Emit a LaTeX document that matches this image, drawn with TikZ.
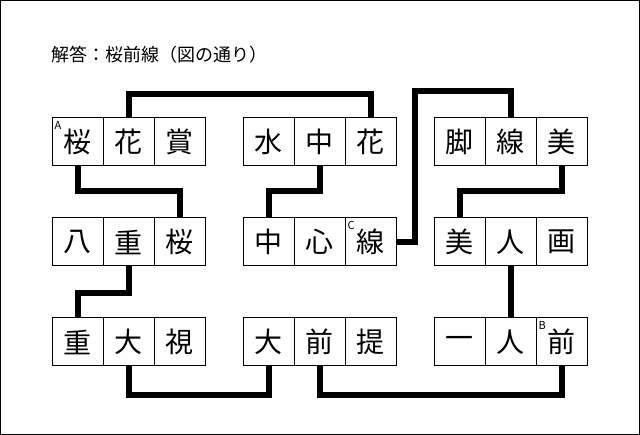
\documentclass[tikz,border=0pt]{standalone}
\usepackage{fontspec}
\setmainfont{Noto Sans CJK JP}
\begin{document}
\begin{tikzpicture}[x=1pt,y=-1pt,
 cell/.style={draw,line width=1pt,minimum width=51pt,minimum height=48pt,inner sep=0pt,font=\fontsize{28}{28}\selectfont},
 tag/.style={font=\fontsize{11}{11}\selectfont,inner sep=0pt},
 conn/.style={line width=6pt,line join=miter}]
\draw[line width=1pt,fill=white] (0.5,0.5) rectangle (639.5,434.5);
\useasboundingbox (0,0) rectangle (640,435);
\node[anchor=west,font=\fontsize{18}{18}\selectfont] (title) at (48,55) {解答：桜前線（図の通り）};
\foreach \g/\gx in {1/52,2/243,3/434}{
 \foreach \r/\ry in {1/142,2/242,3/342}{
  \foreach \c in {1,2,3}{
   \coordinate (p\g\r\c) at ({\gx+25.5+51*(\c-1)},\ry);
  }}}
\def\row#1#2#3#4#5{\node[cell] (c#1#21) at (p#1#21) {#3};\node[cell] (c#1#22) at (p#1#22) {#4};\node[cell] (c#1#23) at (p#1#23) {#5};}
\row11{桜}{花}{賞}
\row12{八}{重}{桜}
\row13{重}{大}{視}
\row21{水}{中}{花}
\row22{中}{心}{線}
\row23{大}{前}{提}
\row31{脚}{線}{美}
\row32{美}{人}{画}
\row33{一}{人}{前}
\node[tag,anchor=north west] (ta) at ([xshift=3pt,yshift=-4pt]c111.north west) {A};
\node[tag,anchor=north west] (tc) at ([xshift=3pt,yshift=-4pt]c223.north west) {C};
\node[tag,anchor=north west] (tb) at ([xshift=3pt,yshift=-4pt]c333.north west) {B};
\draw[conn] (c112.north) -- ++(0,-23) -| (c213.north);
\draw[conn] (c111.south) -- ++(0,25) -| (c123.north);
\draw[conn] (c122.south) -- ++(0,27) -| (c131.north);
\draw[conn] (c132.south) -- ++(0,29) -| (c231.south);
\draw[conn] (c212.south) -- ++(0,25) -| (c221.north);
\draw[conn] (c223.east) -- ++(18,0) |- ([yshift=26pt]c312.north) -- (c312.north);
\draw[conn] (c313.south) -- ++(0,25) -| (c321.north);
\draw[conn] (c322.south) -- (c332.north);
\draw[conn] (c232.south) -- ++(0,29) -| (c333.south);
\end{tikzpicture}
\end{document}
